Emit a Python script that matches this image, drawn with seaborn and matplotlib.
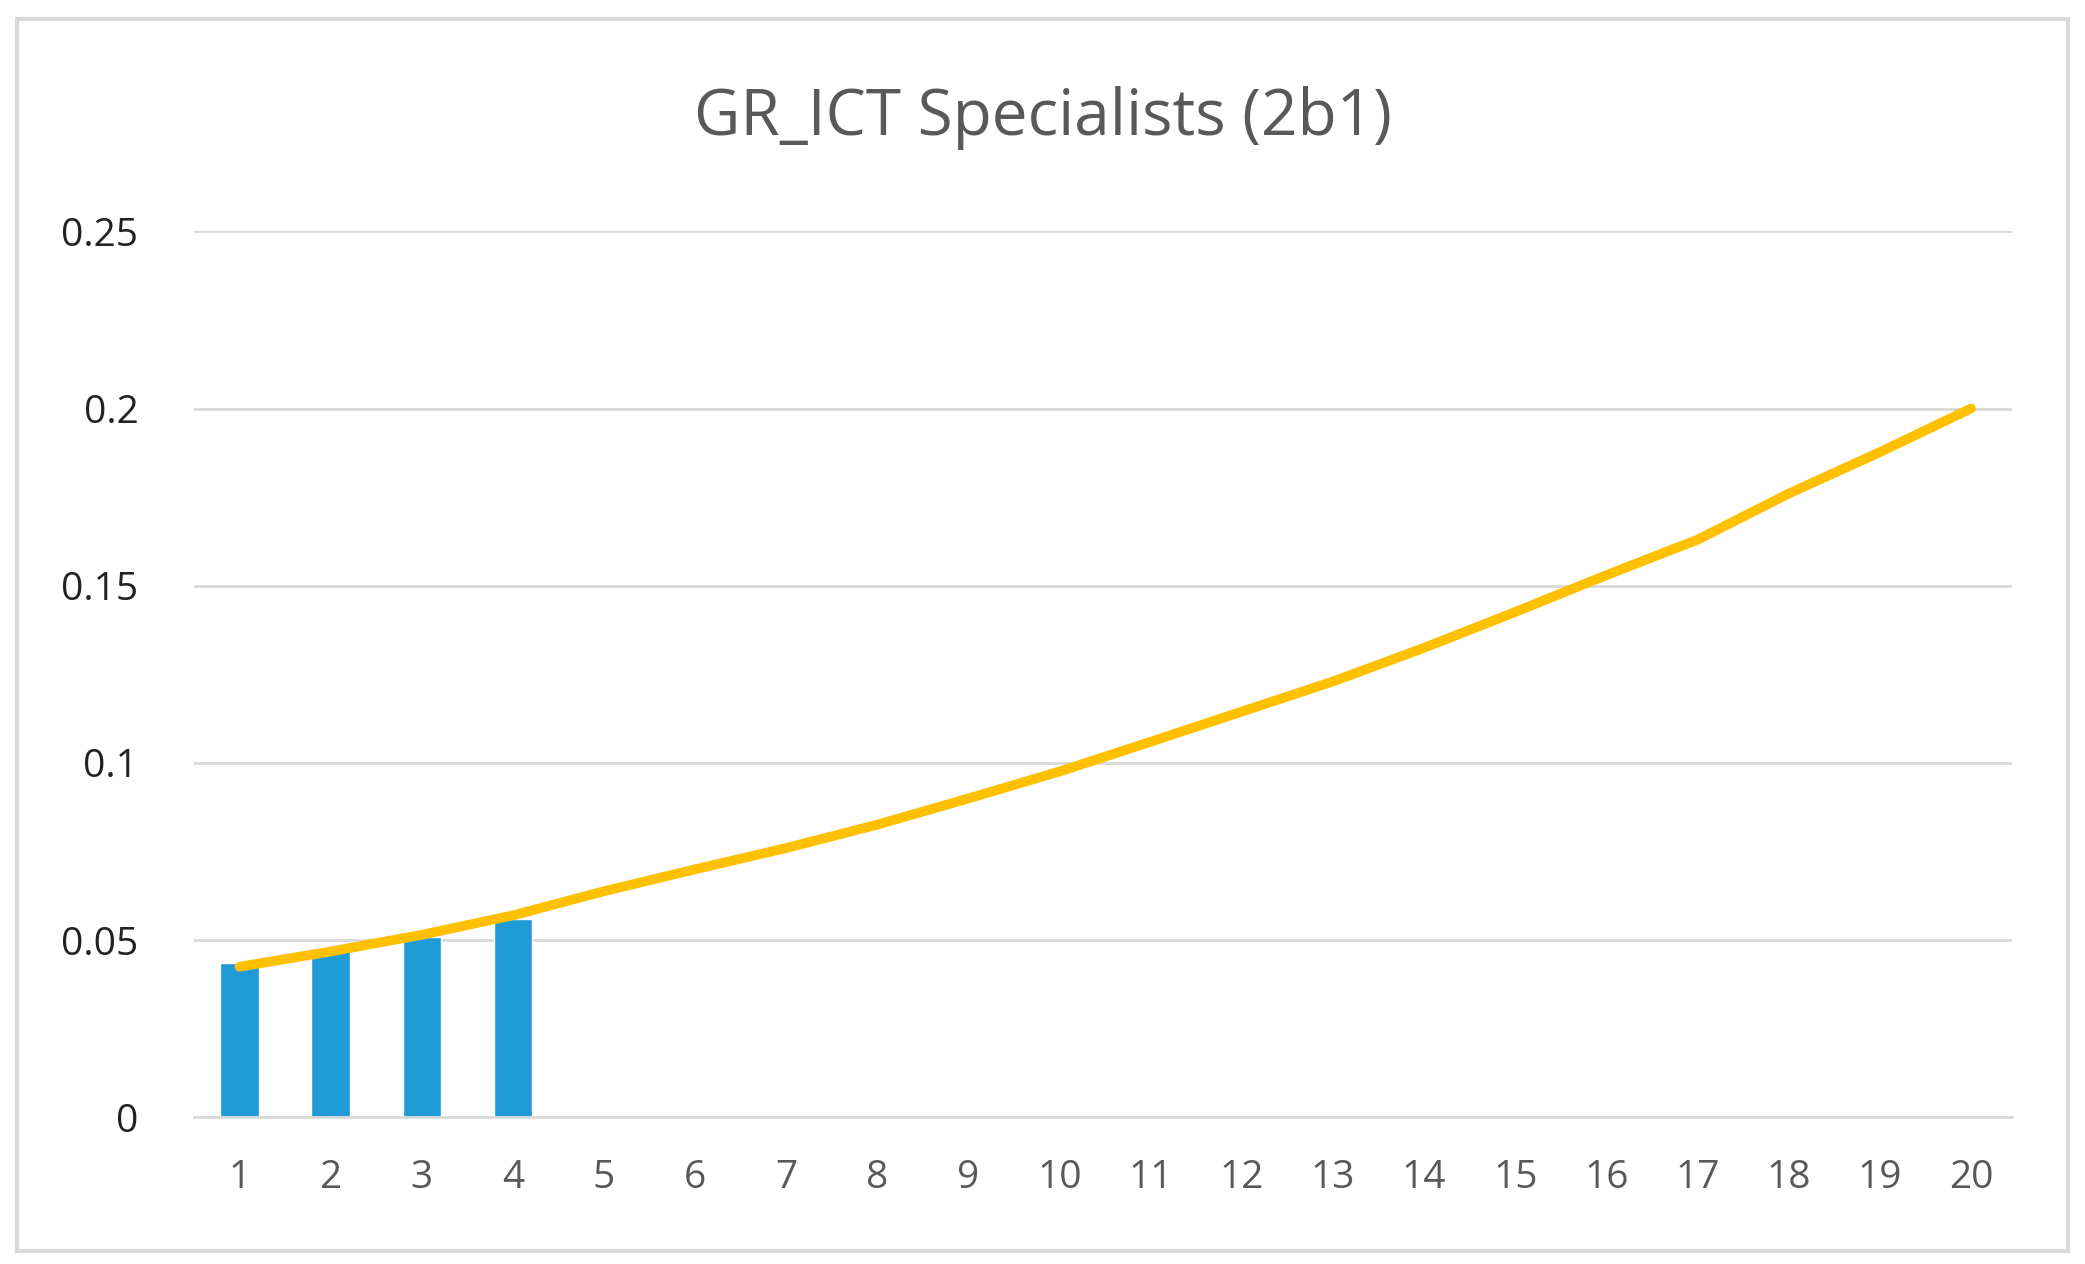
import matplotlib
matplotlib.use("Agg")
import matplotlib.pyplot as plt
import seaborn as sns
import numpy as np
import pandas as pd

categories = [str(i) for i in range(1, 21)]
bar_values = [0.0435, 0.047, 0.051, 0.056] + [np.nan] * 16
line_values = [0.0425, 0.0468, 0.0515, 0.057, 0.0638, 0.070, 0.076, 0.0826, 0.090, 0.0976,
               0.106, 0.1145, 0.123, 0.1325, 0.1426, 0.153, 0.163, 0.176, 0.1877, 0.200]
yticks = [0, 0.05, 0.1, 0.15, 0.2, 0.25]
ytick_labels = ["0", "0.05", "0.1", "0.15", "0.2", "0.25"]

sns.set_theme(style="white")
plt.rcParams['font.family'] = ['Open Sans', 'DejaVu Sans']

fig = plt.figure(figsize=(20.85, 12.64), dpi=100)
ax = fig.add_axes([0.093, 0.116, 0.872, 0.701])
df = pd.DataFrame({"cat": categories, "bar": bar_values, "line": line_values})
sns.barplot(data=df, x="cat", y="bar", order=categories, color="#1f9bd7",
            saturation=1, width=0.42, ax=ax)
sns.lineplot(x=np.arange(len(categories)), y=line_values, color="#ffc000",
             linewidth=7, ax=ax)
ax.set_ylim(0, 0.25)
ax.set_xlim(-0.5, 19.45)
ax.set_yticks(yticks)
ax.set_yticklabels(ytick_labels, fontsize=28, color="#222222")
ax.tick_params(axis="x", labelsize=28, labelcolor="#595959", length=0, pad=30)
ax.tick_params(axis="y", length=0, pad=40)
ax.yaxis.grid(True, color="#d9d9d9", linewidth=2)
for s in ["top", "right", "left"]:
    ax.spines[s].set_visible(False)
ax.spines["bottom"].set_color("#d9d9d9")
ax.spines["bottom"].set_linewidth(2)
ax.set_xlabel("")
ax.set_ylabel("")
fig.text(0.5, 0.907, "GR_ICT Specialists (2b1)", ha="center", va="center",
         fontsize=46, color="#595959")
fig.add_artist(plt.Rectangle((0.008, 0.01), 0.984, 0.975, transform=fig.transFigure,
                             fill=False, edgecolor="#d9d9d9", linewidth=3))
fig.savefig("out.png", dpi=100)
